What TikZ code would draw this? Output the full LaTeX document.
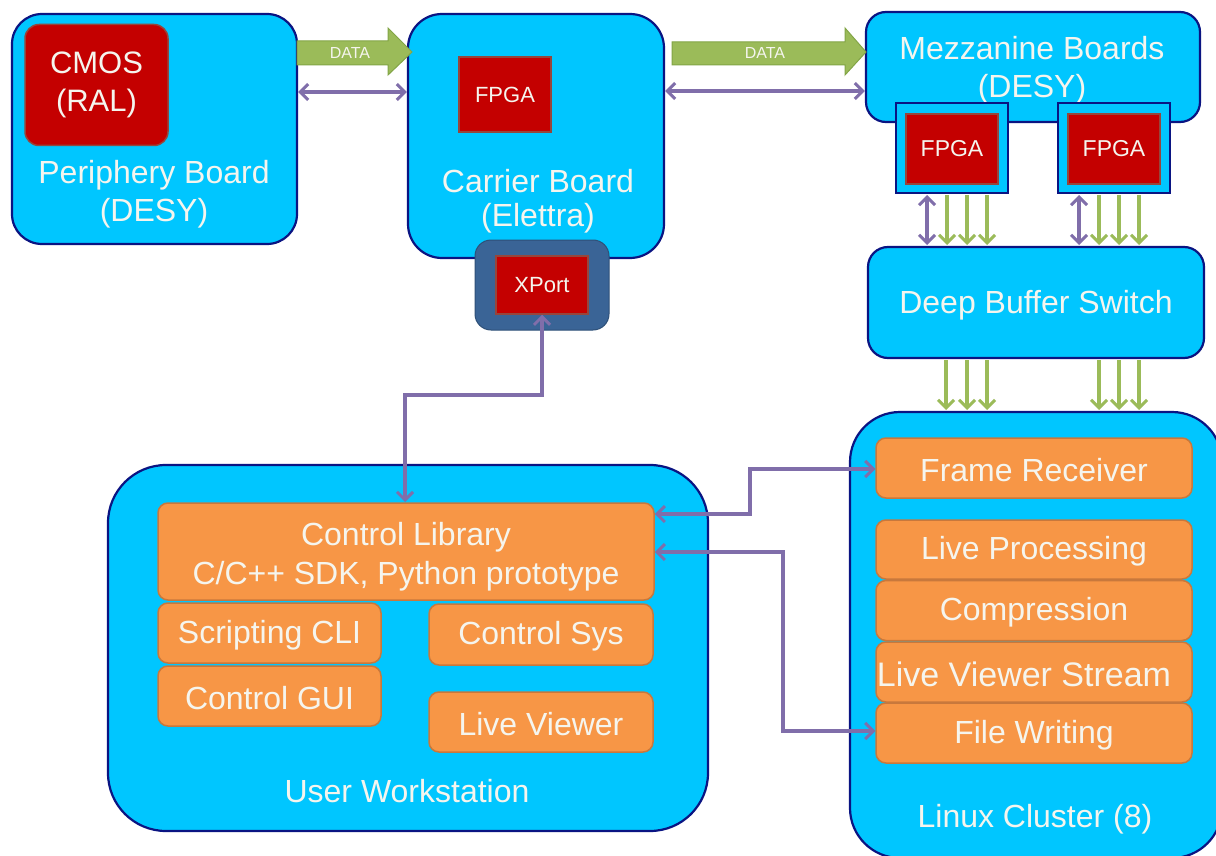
\documentclass[tikz,border=0pt]{standalone}
\usepackage{fontspec}
\setmainfont{Liberation Sans}
\usetikzlibrary{arrows.meta}

\definecolor{boardfill}{RGB}{0,198,255}
\definecolor{boardline}{RGB}{10,20,130}
\definecolor{chipred}{RGB}{196,0,0}
\definecolor{chipline}{RGB}{150,70,60}
\definecolor{taskfill}{RGB}{247,150,70}
\definecolor{taskline}{RGB}{200,120,60}
\definecolor{portfill}{RGB}{58,100,150}
\definecolor{dataarrow}{RGB}{155,187,89}
\definecolor{dataline}{RGB}{130,165,70}
\definecolor{ctrlarrow}{RGB}{128,110,170}
\definecolor{labeltext}{RGB}{245,245,238}

\tikzset{
  board/.style={draw=boardline, line width=2.2pt, fill=boardfill, inner sep=0pt},
  chip/.style={draw=chipline, line width=1.5pt, fill=chipred, inner sep=0pt,
    text=labeltext},
  task/.style={draw=taskline, line width=1.5pt, fill=taskfill, rounded corners=10pt,
    inner sep=0pt, text=labeltext, font=\fontsize{32}{38}\selectfont},
  boardtext/.style={text=labeltext, align=center, font=\fontsize{32}{38}\selectfont},
  bigdata/.style={fill=dataarrow, draw=dataline, line width=1pt},
  datalink/.style={draw=dataarrow, line width=3.5pt,
    -{Straight Barb[length=8pt,width=16pt,line width=3pt]}},
  ctrllink/.style={draw=ctrlarrow, line width=3.5pt,
    {Straight Barb[length=8pt,width=16pt,line width=3pt]}-{Straight Barb[length=8pt,width=16pt,line width=3pt]}},
}

\begin{document}
\begin{tikzpicture}[x=1pt, y=-1pt]
\useasboundingbox (0,0) rectangle (1216,856);
\fill[white] (0,0) rectangle (1216,856);

% ---------- boards ----------
\node[board, rounded corners=30pt, minimum width=285pt, minimum height=230pt]
  (periph) at (154.5,129) {};
\node[chip, rounded corners=14pt, minimum width=143pt, minimum height=121pt,
  font=\fontsize{31}{38}\selectfont, align=center] (cmos) at (96.5,85) {CMOS\\(RAL)};
\node[boardtext] (periphtext) at (154,194) {Periphery Board\\(DESY)};

\node[board, rounded corners=34pt, minimum width=256pt, minimum height=244pt]
  (carrier) at (536,136) {};
\node[chip, minimum width=92pt, minimum height=75pt, font=\fontsize{22}{26}\selectfont]
  (fpgac) at (505,94.5) {FPGA};
\node[boardtext, font=\fontsize{32}{34}\selectfont] (carriertext) at (538,201)
  {Carrier Board\\(Elettra)};

\node[fill=portfill, draw=portfill!80!black, line width=1pt, rounded corners=16pt,
  minimum width=134pt, minimum height=90pt, inner sep=0pt] (xportbox) at (542,285) {};
\node[chip, minimum width=92pt, minimum height=58pt, font=\fontsize{22}{26}\selectfont]
  (xport) at (542,285) {XPort};

\node[board, rounded corners=20pt, minimum width=334pt, minimum height=110pt]
  (mezz) at (1033,67) {};
\node[boardtext] (mezztext) at (1032,70) {Mezzanine Boards\\(DESY)};

\node[board, rounded corners=0pt, minimum width=112pt, minimum height=90pt]
  (fpgaAbox) at (952,148) {};
\node[chip, minimum width=92pt, minimum height=70pt, font=\fontsize{23}{27}\selectfont]
  (fpgaA) at (952,149) {FPGA};
\node[board, rounded corners=0pt, minimum width=112pt, minimum height=90pt]
  (fpgaBbox) at (1114,148) {};
\node[chip, minimum width=92pt, minimum height=70pt, font=\fontsize{23}{27}\selectfont]
  (fpgaB) at (1114,149) {FPGA};

\node[board, rounded corners=20pt, minimum width=336pt, minimum height=111pt]
  (switch) at (1036,302.5) {};
\node[boardtext] (switchtext) at (1036,305) {Deep Buffer Switch};

\node[board, rounded corners=50pt, minimum width=372pt, minimum height=446pt]
  (cluster) at (1036,635) {};
\node[boardtext] (clustertext) at (1035,819) {Linux Cluster (8)};

\node[task, minimum width=316pt, minimum height=60pt] (frame) at (1034,468) {};
\node[task, minimum width=316pt, minimum height=59pt] (liveproc) at (1034,549.5) {};
\node[task, minimum width=316pt, minimum height=60pt] (compress) at (1034,610.5) {};
\node[task, minimum width=316pt, minimum height=60pt] (stream) at (1034,672) {};
\node[task, minimum width=316pt, minimum height=60pt] (filewrite) at (1034,733) {};
\node[boardtext] (frametext) at (1034,470) {Frame Receiver};
\node[boardtext] (liveproctext) at (1034,551.5) {Live Processing};
\node[boardtext] (compresstext) at (1034,612.5) {Compression};
\node[boardtext, font=\fontsize{34}{38}\selectfont] (streamtext) at (1024,674) {Live Viewer Stream};
\node[boardtext] (filewritetext) at (1034,735) {File Writing};

\node[board, rounded corners=58pt, minimum width=600pt, minimum height=366pt]
  (station) at (408,648) {};
\node[boardtext] (stationtext) at (407,791) {User Workstation};

\node[task, minimum width=496pt, minimum height=97pt] (ctrllib) at (406,551.5) {};
\node[boardtext, font=\fontsize{32}{39}\selectfont] (ctrllibtext) at (406,557)
  {Control Library\\C/C++ SDK, Python prototype};
\node[task, minimum width=223pt, minimum height=60pt] (cli) at (269.5,633) {};
\node[task, minimum width=223pt, minimum height=60pt] (gui) at (269.5,696) {};
\node[task, minimum width=224pt, minimum height=61pt] (sys) at (541,634.5) {};
\node[task, minimum width=224pt, minimum height=60pt] (viewer) at (541,722) {};
\node[boardtext] (clitext) at (269.5,635) {Scripting CLI};
\node[boardtext] (guitext) at (269.5,698) {Control GUI};
\node[boardtext] (systext) at (541,636.5) {Control Sys};
\node[boardtext] (viewertext) at (541,724) {Live Viewer};

% ---------- wide DATA arrows ----------
\draw[bigdata] (297,41) -- (388,41) -- (388,28) -- (412,52) -- (388,75) -- (388,65)
  -- (297,65) -- cycle;
\node[text=labeltext, font=\fontsize{16}{18}\selectfont] (data1) at (350,53) {DATA};
\draw[bigdata] (672,42) -- (845,42) -- (845,28) -- (866,52) -- (845,75) -- (845,65)
  -- (672,65) -- cycle;
\node[text=labeltext, font=\fontsize{16}{18}\selectfont] (data2) at (765,53) {DATA};

% ---------- control links between boards ----------
\draw[ctrllink] (periph.east |- 0,92) -- (carrier.west |- 0,92);
\draw[ctrllink] (carrier.east |- 0,91) -- (mezz.west |- 0,91);

% ---------- links from the mezzanine FPGAs to the switch ----------
\foreach \bx in {0,152} {
  \draw[ctrllink] (927+\bx,195) -- (927+\bx,245);
  \foreach \dx in {947,967,987}
    \draw[datalink] (\dx+\bx,195) -- (\dx+\bx,245);
}
% ---------- links from the switch to the cluster ----------
\foreach \dx in {946,967,987,1099,1119,1139}
  \draw[datalink] (\dx,360) -- (\dx,410);

% ---------- control paths to the workstation ----------
\draw[ctrllink] (xport.south) -- (xport.south |- 0,395) -- (405,395) -- (405,502);
\draw[ctrllink] (ctrllib.east |- 0,514) -- (750,514) -- (750,469) -- (frame.west |- 0,469);
\draw[ctrllink] (ctrllib.east |- 0,552) -- (783,552) -- (783,731) -- (filewrite.west |- 0,731);

\end{tikzpicture}
\end{document}
